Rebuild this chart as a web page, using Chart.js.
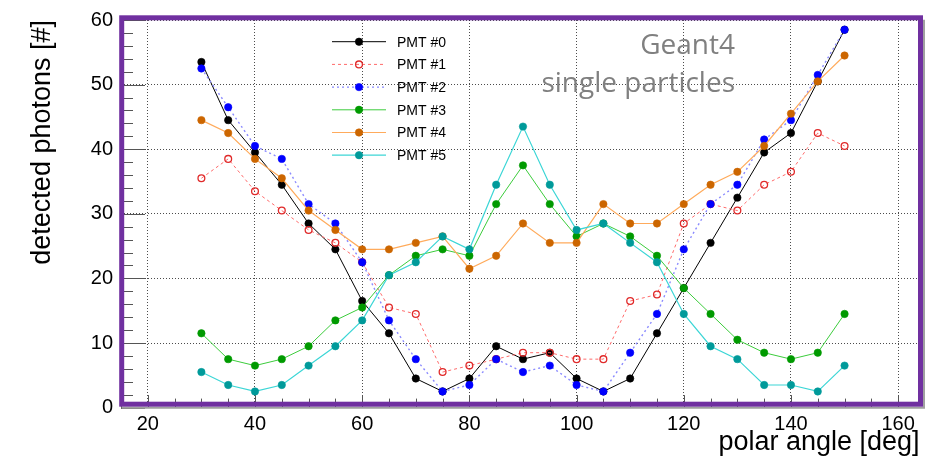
<!DOCTYPE html>
<html>
<head>
<meta charset="utf-8">
<script src="https://cdn.jsdelivr.net/npm/chart.js@4.4.0/dist/chart.umd.min.js"></script>
<style>
  html, body { margin: 0; padding: 0; background: #fff; }
  #wrap { width: 938px; height: 461px; }
</style>
</head>
<body>
<div id="wrap"><canvas id="plot"></canvas></div>
<script>
// polar angle bins (deg)
const angles = [30, 35, 40, 45, 50, 55, 60, 65, 70, 75, 80, 85, 90, 95, 100, 105, 110, 115, 120, 125, 130, 135, 140, 145, 150];

// detected photons per PMT
const pmt0 = [53.5, 44.5, 39.5, 34.5, 28.5, 24.5, 16.5, 11.5, 4.5, 2.5, 4.5, 9.5, 7.5, 8.5, 4.5, 2.5, 4.5, 11.5, 18.5, 25.5, 32.5, 39.5, 42.5, 50.5, 58.5];
const pmt1 = [35.5, 38.5, 33.5, 30.5, 27.5, 25.5, 22.5, 15.5, 14.5, 5.5, 6.5, 7.5, 8.5, 8.5, 7.5, 7.5, 16.5, 17.5, 28.5, 31.5, 30.5, 34.5, 36.5, 42.5, 40.5];
const pmt2 = [52.5, 46.5, 40.5, 38.5, 31.5, 28.5, 22.5, 13.5, 7.5, 2.5, 3.5, 7.5, 5.5, 6.5, 3.5, 2.5, 8.5, 14.5, 24.5, 31.5, 34.5, 41.5, 44.5, 51.5, 58.5];
const pmt3 = [11.5, 7.5, 6.5, 7.5, 9.5, 13.5, 15.5, 20.5, 23.5, 24.5, 23.5, 31.5, 37.5, 31.5, 26.5, 28.5, 26.5, 23.5, 18.5, 14.5, 10.5, 8.5, 7.5, 8.5, 14.5];
const pmt4 = [44.5, 42.5, 38.5, 35.5, 30.5, 27.5, 24.5, 24.5, 25.5, 26.5, 21.5, 23.5, 28.5, 25.5, 25.5, 31.5, 28.5, 28.5, 31.5, 34.5, 36.5, 40.5, 45.5, 50.5, 54.5];
const pmt5 = [5.5, 3.5, 2.5, 3.5, 6.5, 9.5, 13.5, 20.5, 22.5, 26.5, 24.5, 34.5, 43.5, 34.5, 27.5, 28.5, 25.5, 22.5, 14.5, 9.5, 7.5, 3.5, 3.5, 2.5, 6.5];

const seriesLabels = ['PMT #0', 'PMT #1', 'PMT #2', 'PMT #3', 'PMT #4', 'PMT #5'];
const xTicks = [20, 40, 60, 80, 100, 120, 140, 160];
const yTicks = [0, 10, 20, 30, 40, 50, 60];

const ROOT_FONT = '"Liberation Sans", Arial, sans-serif';
const FRAME_PURPLE = '#7030a0';

// line / marker styles per PMT
const STYLES = [
    { line: '#000000', dash: [],     width: 1,   marker: '#000000', open: false },
    { line: '#ff6a6a', dash: [3, 3], width: 1,   marker: '#e02a2a', open: true },
    { line: '#8a8aff', dash: [2, 3], width: 1.4, marker: '#0000ff', open: false },
    { line: '#3ccc3c', dash: [],     width: 1,   marker: '#009a00', open: false },
    { line: '#ffab5c', dash: [],     width: 1.2, marker: '#cc6600', open: false },
    { line: '#3cd6d6', dash: [],     width: 1.2, marker: '#009a9a', open: false }
];

const allSeries = [pmt0, pmt1, pmt2, pmt3, pmt4, pmt5];

function toPoints(values) {
    return angles.map((a, i) => ({ x: a, y: values[i] }));
}

const datasets = allSeries.map((vals, i) => {
    const s = STYLES[i];
    return {
        label: seriesLabels[i],
        data: toPoints(vals),
        borderColor: s.line,
        borderWidth: s.width,
        borderDash: s.dash,
        tension: 0,
        pointRadius: s.open ? 3.4 : 3.7,
        pointBorderWidth: s.open ? 1.3 : 0.6,
        pointBackgroundColor: s.open ? 'rgba(0,0,0,0)' : s.marker,
        pointBorderColor: s.marker,
        order: allSeries.length - i   // later PMTs drawn on top, like ROOT
    };
});

/**
 * ROOT style inward tick marks on the bottom and left axes.
 */
const innerTicks = {
    id: 'innerTicks',
    beforeDatasetsDraw(chart) {
        const { ctx, chartArea: ca, scales: { x, y } } = chart;
        ctx.save();
        ctx.strokeStyle = '#555';
        ctx.lineWidth = 1;
        ctx.beginPath();
        for (let v = 15; v <= x.max; v += 5) {
            const px = Math.round(x.getPixelForValue(v)) + 0.5;
            const len = (v % 20 === 0) ? 12.5 : 9;
            ctx.moveTo(px, ca.bottom);
            ctx.lineTo(px, ca.bottom - len);
        }
        for (let v = 0; v <= y.max; v += 2) {
            const py = Math.round(y.getPixelForValue(v)) + 0.5;
            const len = (v % 10 === 0) ? 24 : 12;
            ctx.moveTo(ca.left, py);
            ctx.lineTo(ca.left + len, py);
        }
        ctx.stroke();
        ctx.restore();
    }
};

/**
 * Legend without a box, plus the purple frame and the Geant4 caption.
 */
const overlay = {
    id: 'overlay',
    afterDraw(chart) {
        const { ctx, chartArea: ca } = chart;
        ctx.save();

        // legend
        chart.data.datasets.forEach((ds, i) => {
            const yy = 41.7 + i * 22.7;
            ctx.strokeStyle = ds.borderColor;
            ctx.lineWidth = ds.borderWidth;
            ctx.setLineDash(ds.borderDash);
            ctx.beginPath();
            ctx.moveTo(332, yy);
            ctx.lineTo(386, yy);
            ctx.stroke();
            ctx.setLineDash([]);
            ctx.beginPath();
            ctx.arc(359, yy, ds.pointRadius, 0, Math.PI * 2);
            ctx.fillStyle = ds.pointBackgroundColor;
            ctx.fill();
            ctx.lineWidth = ds.pointBorderWidth;
            ctx.strokeStyle = ds.pointBorderColor;
            ctx.stroke();
            ctx.fillStyle = '#000';
            ctx.font = '14px ' + ROOT_FONT;
            ctx.textAlign = 'left';
            ctx.textBaseline = 'middle';
            ctx.fillText(ds.label, 397, yy + 1);
        });

        // caption
        ctx.fillStyle = '#808080';
        ctx.font = '28px "Open Sans", sans-serif';
        ctx.textAlign = 'right';
        ctx.textBaseline = 'alphabetic';
        ctx.fillText('Geant4', 735, 54);
        ctx.fillText('single particles', 735, 92);

        // frame shadow + purple frame
        const l = ca.left + 0.7, t = ca.top - 2.2, r = ca.right + 0.9, b = ca.bottom - 3.4;
        ctx.strokeStyle = '#a0a0a0';
        ctx.lineWidth = 2;
        ctx.beginPath();
        ctx.moveTo(l, b + 3.5);
        ctx.lineTo(r + 3.5, b + 3.5);
        ctx.lineTo(r + 3.5, t + 2);
        ctx.stroke();
        ctx.strokeStyle = FRAME_PURPLE;
        ctx.lineWidth = 5;
        ctx.strokeRect(l, t, r - l, b - t);

        ctx.restore();
    }
};

const config = {
    type: 'line',
    data: { datasets },
    options: {
        responsive: true,
        maintainAspectRatio: false,
        animation: false,
        layout: { padding: { left: 0, right: 18.4, top: 15.4, bottom: 0 } },
        plugins: { legend: { display: false }, tooltip: { enabled: false } },
        scales: {
            x: {
                type: 'linear',
                min: 15, max: 164,
                afterBuildTicks: s => { s.ticks = xTicks.map(v => ({ value: v })); },
                afterFit: s => { s.height = 53.4; },
                grid: { color: 'rgba(0,0,0,0.7)', lineWidth: 1, drawTicks: false },
                border: { display: false, dash: [1, 2] },
                ticks: { color: '#000', padding: 5, maxRotation: 0, font: { family: ROOT_FONT, size: 20 } },
                title: {
                    display: true, text: 'polar angle [deg]', align: 'end', color: '#000',
                    font: { family: ROOT_FONT, size: 27 }, padding: { top: 0, bottom: 2 }
                }
            },
            y: {
                type: 'linear',
                min: 0, max: 60,
                afterBuildTicks: s => { s.ticks = yTicks.map(v => ({ value: v })); },
                afterFit: s => { s.width = 121; },
                grid: { color: 'rgba(0,0,0,0.7)', lineWidth: 1, drawTicks: false },
                border: { display: false, dash: [1, 2] },
                ticks: { color: '#000', padding: 8, font: { family: ROOT_FONT, size: 20 } },
                title: {
                    display: true, text: 'detected photons [#]', align: 'end', color: '#000',
                    font: { family: ROOT_FONT, size: 27 }, padding: { top: 26, bottom: 0 }
                }
            }
        }
    },
    plugins: [innerTicks, overlay]
};

new Chart(document.getElementById('plot').getContext('2d'), config);
</script>
</body>
</html>
